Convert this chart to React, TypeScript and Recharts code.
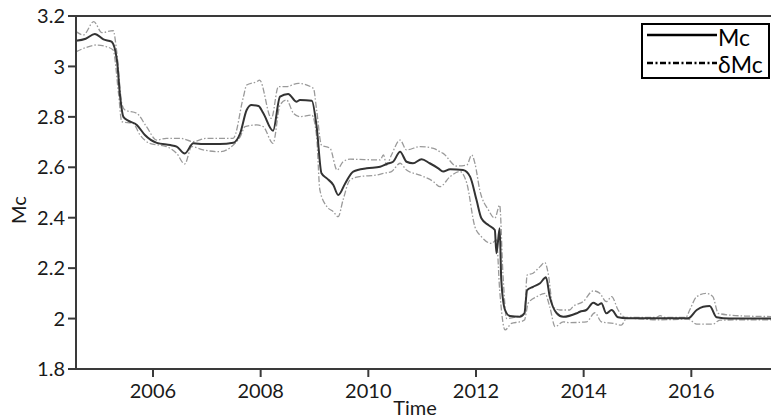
import { LineChart, Line, XAxis, YAxis, Label } from "recharts";

// Mc (solid), decimal years
const mcYears = [
  2004.57, 2004.75, 2004.92, 2005.08, 2005.23, 2005.33, 2005.39, 2005.45, 2005.54, 2005.7,
  2005.85, 2006.07, 2006.32, 2006.44, 2006.59, 2006.75, 2006.93, 2007.24, 2007.49, 2007.62,
  2007.74, 2007.83, 2007.96, 2008.05, 2008.23, 2008.36, 2008.51, 2008.67, 2008.73, 2008.95,
  2009.04, 2009.13, 2009.23, 2009.35, 2009.44, 2009.57, 2009.72, 2009.97, 2010.22, 2010.34,
  2010.46, 2010.59, 2010.71, 2010.83, 2010.99, 2011.14, 2011.3, 2011.39, 2011.52, 2011.76,
  2011.89, 2012.01, 2012.1, 2012.23, 2012.35, 2012.38, 2012.44, 2012.47, 2012.54, 2012.63,
  2012.81, 2012.9, 2012.95, 2013.06, 2013.19, 2013.3, 2013.37, 2013.5, 2013.62, 2013.87,
  2013.93, 2014.05, 2014.18, 2014.27, 2014.33, 2014.42, 2014.52, 2014.64, 2014.8, 2015.94,
  2016.1, 2016.22, 2016.34, 2016.47, 2016.71, 2017.48,
];
const mcValues = [
  3.102, 3.11, 3.129, 3.107, 3.098, 3.025, 2.88, 2.8, 2.785, 2.768,
  2.728, 2.697, 2.688, 2.682, 2.655, 2.695, 2.692, 2.692, 2.697, 2.735,
  2.827, 2.847, 2.843, 2.814, 2.745, 2.88, 2.891, 2.86, 2.867, 2.864,
  2.761, 2.576, 2.556, 2.53, 2.49, 2.536, 2.583, 2.596, 2.602, 2.613,
  2.622, 2.662, 2.622, 2.616, 2.632, 2.616, 2.596, 2.583, 2.592, 2.589,
  2.563, 2.47, 2.398, 2.371, 2.351, 2.259, 2.358, 2.153, 2.034, 2.01,
  2.007, 2.021, 2.113, 2.126, 2.14, 2.164, 2.087, 2.021, 2.007, 2.021,
  2.027, 2.034, 2.063, 2.054, 2.061, 2.021, 2.034, 2.005, 2.001, 2.001,
  2.034, 2.047, 2.05, 2.005, 2.0, 2.0,
];

// upper δMc band
const upYears = [
  2004.57, 2004.71, 2004.9, 2005.05, 2005.26, 2005.33, 2005.42, 2005.48, 2005.7, 2005.88,
  2006.07, 2006.25, 2006.5, 2006.75, 2006.99, 2007.49, 2007.68, 2007.74, 2007.93, 2007.98,
  2008.2, 2008.33, 2008.48, 2008.7, 2008.98, 2009.04, 2009.13, 2009.29, 2009.42, 2009.53,
  2009.66, 2010.22, 2010.28, 2010.34, 2010.43, 2010.59, 2010.71, 2010.96, 2011.21, 2011.33,
  2011.39, 2011.64, 2011.83, 2011.92, 2011.98, 2012.07, 2012.23, 2012.35, 2012.44, 2012.5,
  2012.57, 2012.75, 2012.9, 2012.95, 2013.06, 2013.19, 2013.28, 2013.34, 2013.43, 2013.56,
  2013.74, 2013.8, 2013.99, 2014.18, 2014.3, 2014.42, 2014.52, 2014.64, 2014.77, 2015.35,
  2015.42, 2015.5, 2015.9, 2015.97, 2016.1, 2016.28, 2016.4, 2016.5, 2016.71, 2017.0,
  2017.48,
];
const upValues = [
  3.138, 3.125, 3.178, 3.134, 3.142, 3.052, 2.854, 2.827, 2.814, 2.761,
  2.708, 2.715, 2.715, 2.702, 2.715, 2.715, 2.88, 2.926, 2.94, 2.946,
  2.794, 2.92, 2.92, 2.933, 2.913, 2.827, 2.688, 2.675, 2.589, 2.622,
  2.632, 2.629, 2.649, 2.609, 2.649, 2.708, 2.669, 2.682, 2.675, 2.662,
  2.655, 2.605, 2.609, 2.649, 2.616, 2.51, 2.431, 2.398, 2.45, 2.18,
  2.0, 2.007, 2.021, 2.173, 2.18, 2.206, 2.222, 2.18, 2.047, 2.034,
  2.034, 2.047, 2.067, 2.11, 2.1, 2.067, 2.087, 2.034, 2.005, 2.005,
  2.012, 2.005, 2.005, 2.034, 2.087, 2.1, 2.087, 2.021, 2.014, 2.01,
  2.008,
];

// lower δMc band
const loYears = [
  2004.57, 2004.77, 2004.95, 2005.14, 2005.26, 2005.36, 2005.42, 2005.63, 2005.76, 2005.94,
  2006.25, 2006.44, 2006.59, 2006.72, 2006.93, 2007.24, 2007.49, 2007.62, 2007.71, 2007.93,
  2008.05, 2008.23, 2008.36, 2008.48, 2008.61, 2008.73, 2008.95, 2009.04, 2009.1, 2009.23,
  2009.35, 2009.44, 2009.53, 2009.66, 2009.84, 2010.15, 2010.28, 2010.43, 2010.59, 2010.71,
  2010.96, 2011.21, 2011.33, 2011.52, 2011.7, 2011.83, 2011.98, 2012.1, 2012.29, 2012.38,
  2012.44, 2012.54, 2012.66, 2012.81, 2012.9, 2012.97, 2013.13, 2013.28, 2013.37, 2013.47,
  2013.62, 2013.74, 2014.05, 2014.21, 2014.33, 2014.55, 2014.7, 2014.8, 2015.42, 2015.94,
  2016.1, 2016.4, 2016.53, 2017.48,
];
const loValues = [
  3.058, 3.076, 3.085, 3.078, 3.065, 2.893, 2.781, 2.774, 2.728, 2.695,
  2.682, 2.655, 2.613, 2.682, 2.669, 2.662, 2.688, 2.721, 2.761, 2.768,
  2.761, 2.695, 2.847, 2.867, 2.814, 2.801, 2.807, 2.721, 2.51, 2.444,
  2.424, 2.404, 2.47, 2.55, 2.563, 2.569, 2.576, 2.583, 2.616, 2.589,
  2.569, 2.543, 2.523, 2.563, 2.583, 2.536, 2.364, 2.325, 2.298, 2.312,
  2.113, 1.955, 1.981, 1.987, 1.994, 2.061, 2.087, 2.1, 2.047, 1.968,
  1.987, 1.984, 1.987, 2.023, 1.987, 1.981, 1.974, 2.001, 1.995, 1.998,
  1.978, 1.978, 1.994, 1.995,
];

const yearTicks = [2006, 2008, 2010, 2012, 2014, 2016];
const mcTicks = [1.8, 2, 2.2, 2.4, 2.6, 2.8, 3, 3.2];

const toRows = (ts: number[], vs: number[]) => ts.map((t, i) => ({ t, v: vs[i] }));
const mcData = toRows(mcYears, mcValues);
const upData = toRows(upYears, upValues);
const loData = toRows(loYears, loValues);

const FONT = "Lato, 'Noto Sans', sans-serif";
const AXIS = "#3a3a3a";
const BAND = "#9a9a9a";
const BAND_DASH = "6 2 1.5 2";
const tickStyle = { fontSize: 20, fill: "#1a1a1a", fontFamily: FONT };

function LegendBox() {
  return (
    <div
      style={{
        position: "absolute",
        left: 641,
        top: 23,
        width: 125,
        height: 52,
        border: "2px solid #000",
        background: "#fff",
      }}
    >
      <svg width={125} height={52} style={{ position: "absolute", left: 0, top: 0, overflow: "visible" }}>
        <line x1={4} y1={10} x2={74} y2={10} stroke="#000" strokeWidth={2.5} />
        <line x1={4} y1={38} x2={74} y2={38} stroke="#000" strokeWidth={2.5} strokeDasharray="6 2.5 2 2.5" />
        <text x={75} y={21} fontSize={23} fontFamily={FONT}>Mc</text>
        <text x={75} y={48} fontSize={23} fontFamily={FONT}>δMc</text>
      </svg>
    </div>
  );
}

export default function App() {
  return (
    <div style={{ position: "relative", width: 771, height: 419, background: "#fff" }}>
      <style>{`body{margin:0}`}</style>
      <LineChart width={771} height={419} margin={{ top: 0, right: 0, bottom: 0, left: 0 }}>
        <XAxis
          xAxisId="bottom"
          type="number"
          dataKey="t"
          domain={[2004.57, 2017.48]}
          allowDataOverflow
          ticks={yearTicks}
          height={50}
          tickSize={8}
          tickMargin={7}
          stroke={AXIS}
          strokeWidth={2}
          tick={tickStyle}
        >
          <Label
            content={() => (
              <text x={415} y={415} textAnchor="middle" fontSize={20} fontFamily={FONT} fill="#1a1a1a">
                Time
              </text>
            )}
          />
        </XAxis>
        <XAxis
          xAxisId="top"
          orientation="top"
          type="number"
          dataKey="t"
          domain={[2004.57, 2017.48]}
          allowDataOverflow
          ticks={yearTicks}
          height={16}
          tickSize={6}
          stroke={AXIS}
          strokeWidth={2}
          tick={false}
        />
        <YAxis
          type="number"
          domain={[1.8, 3.2]}
          ticks={mcTicks}
          width={76}
          tickSize={8}
          tickMargin={3}
          stroke={AXIS}
          strokeWidth={2}
          tick={tickStyle}
        >
          <Label
            content={() => (
              <text
                x={26}
                y={210}
                transform="rotate(-90 26 210)"
                textAnchor="middle"
                fontSize={20}
                fontFamily={FONT}
                fill="#1a1a1a"
              >
                Mc
              </text>
            )}
          />
        </YAxis>
        <Line
          xAxisId="bottom"
          data={upData}
          dataKey="v"
          type="monotone"
          stroke={BAND}
          strokeWidth={1.3}
          strokeDasharray={BAND_DASH}
          dot={false}
          isAnimationActive={false}
        />
        <Line
          xAxisId="bottom"
          data={loData}
          dataKey="v"
          type="monotone"
          stroke={BAND}
          strokeWidth={1.3}
          strokeDasharray={BAND_DASH}
          dot={false}
          isAnimationActive={false}
        />
        <Line
          xAxisId="bottom"
          data={mcData}
          dataKey="v"
          type="monotone"
          stroke="#333"
          strokeWidth={2}
          dot={false}
          isAnimationActive={false}
        />
      </LineChart>
      <LegendBox />
    </div>
  );
}
